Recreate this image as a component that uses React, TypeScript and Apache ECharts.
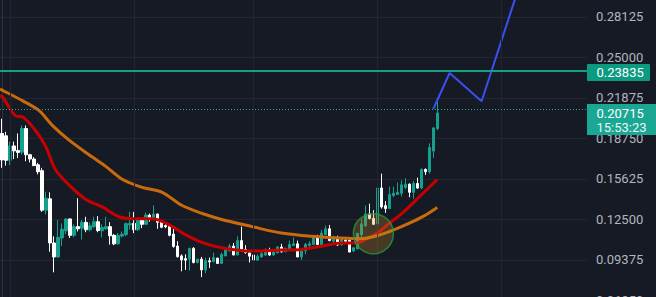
import React, { useEffect, useRef } from "react";
import * as echarts from "echarts";

// category slots (one per candle period, plus empty future slots on the right)
const categories = Array.from({ length: 147 }, (_, i) => String(i));

// [open, close, low, high]
const candles: number[][] = [
  [0.1913, 0.1709, 0.1648, 0.2026],
  [0.1895, 0.1706, 0.1665, 0.1926],
  [0.1706, 0.1817, 0.1669, 0.185],
  [0.1817, 0.1779, 0.1716, 0.185],
  [0.1782, 0.1767, 0.1724, 0.1913],
  [0.1769, 0.1951, 0.1749, 0.1975],
  [0.1951, 0.1749, 0.1699, 0.1975],
  [0.1749, 0.1716, 0.169, 0.1756],
  [0.1716, 0.1665, 0.1661, 0.1731],
  [0.1671, 0.1618, 0.1598, 0.1686],
  [0.1626, 0.1321, 0.1308, 0.1648],
  [0.1321, 0.1414, 0.1288, 0.1464],
  [0.1409, 0.1068, 0.1, 0.1459],
  [0.1068, 0.096, 0.0841, 0.1119],
  [0.096, 0.1111, 0.0955, 0.1245],
  [0.1106, 0.1174, 0.1044, 0.1219],
  [0.1162, 0.1253, 0.1136, 0.1257],
  [0.1253, 0.1127, 0.1106, 0.1257],
  [0.1127, 0.1194, 0.1111, 0.1212],
  [0.1194, 0.1177, 0.1157, 0.1414],
  [0.1182, 0.1227, 0.1094, 0.1245],
  [0.1227, 0.117, 0.1151, 0.127],
  [0.117, 0.12, 0.1157, 0.1227],
  [0.1194, 0.1232, 0.1182, 0.127],
  [0.1232, 0.1164, 0.1151, 0.1275],
  [0.1162, 0.1187, 0.1111, 0.1212],
  [0.1177, 0.1194, 0.117, 0.127],
  [0.1194, 0.1123, 0.1055, 0.1229],
  [0.1127, 0.1061, 0.1051, 0.1136],
  [0.1061, 0.1127, 0.1056, 0.1144],
  [0.1121, 0.1136, 0.1111, 0.1157],
  [0.1132, 0.1217, 0.1119, 0.1225],
  [0.1207, 0.1219, 0.117, 0.1308],
  [0.1219, 0.117, 0.1144, 0.1308],
  [0.117, 0.1253, 0.1162, 0.1263],
  [0.1245, 0.1212, 0.1182, 0.1257],
  [0.1212, 0.1283, 0.1207, 0.1303],
  [0.1283, 0.1257, 0.1232, 0.1295],
  [0.1257, 0.1291, 0.1245, 0.1358],
  [0.1291, 0.1227, 0.1177, 0.1295],
  [0.1232, 0.1189, 0.1182, 0.1237],
  [0.1202, 0.1192, 0.1182, 0.1227],
  [0.1197, 0.1127, 0.1119, 0.1207],
  [0.1136, 0.1041, 0.1031, 0.1177],
  [0.1044, 0.0962, 0.0955, 0.1081],
  [0.0968, 0.0937, 0.0849, 0.098],
  [0.0947, 0.0935, 0.086, 0.098],
  [0.0943, 0.1026, 0.0854, 0.1031],
  [0.1026, 0.0917, 0.091, 0.1036],
  [0.0917, 0.0943, 0.091, 0.0945],
  [0.0943, 0.086, 0.0804, 0.096],
  [0.086, 0.093, 0.0834, 0.0955],
  [0.093, 0.0922, 0.0875, 0.0955],
  [0.0925, 0.0955, 0.0917, 0.0994],
  [0.095, 0.091, 0.0906, 0.0955],
  [0.091, 0.098, 0.0906, 0.0993],
  [0.0968, 0.1018, 0.0966, 0.1031],
  [0.1006, 0.1043, 0.1004, 0.1061],
  [0.1043, 0.0975, 0.0973, 0.1068],
  [0.0975, 0.1086, 0.0973, 0.1119],
  [0.1086, 0.1011, 0.1009, 0.1194],
  [0.1018, 0.0993, 0.0985, 0.1051],
  [0.0991, 0.0966, 0.0917, 0.0996],
  [0.0975, 0.0937, 0.0917, 0.0993],
  [0.0935, 0.0966, 0.093, 0.098],
  [0.096, 0.0985, 0.0955, 0.0998],
  [0.0975, 0.1013, 0.0968, 0.1026],
  [0.1013, 0.0975, 0.0968, 0.1031],
  [0.0975, 0.1, 0.0968, 0.1011],
  [0.0993, 0.1036, 0.0985, 0.1044],
  [0.1036, 0.1, 0.0993, 0.1061],
  [0.1, 0.1026, 0.0998, 0.1031],
  [0.1018, 0.1056, 0.1011, 0.1086],
  [0.1049, 0.1061, 0.1044, 0.1111],
  [0.1061, 0.096, 0.0958, 0.1086],
  [0.096, 0.1011, 0.0935, 0.1018],
  [0.1006, 0.1056, 0.098, 0.1068],
  [0.1049, 0.1061, 0.1031, 0.1081],
  [0.1056, 0.1119, 0.1051, 0.1126],
  [0.1106, 0.1056, 0.1051, 0.1131],
  [0.1056, 0.1144, 0.1054, 0.1169],
  [0.1132, 0.1177, 0.113, 0.1202],
  [0.1177, 0.1086, 0.1081, 0.1207],
  [0.1081, 0.1099, 0.1068, 0.1124],
  [0.1099, 0.1053, 0.1044, 0.1124],
  [0.1053, 0.1094, 0.1049, 0.1106],
  [0.1089, 0.1079, 0.1068, 0.1114],
  [0.1089, 0.0998, 0.0996, 0.1106],
  [0.1006, 0.1031, 0.0998, 0.1033],
  [0.1023, 0.1142, 0.1018, 0.1145],
  [0.1132, 0.1215, 0.1068, 0.125],
  [0.12, 0.1291, 0.1194, 0.1358],
  [0.1291, 0.1257, 0.125, 0.1371],
  [0.1257, 0.1212, 0.1207, 0.1321],
  [0.1215, 0.1492, 0.1207, 0.1635],
  [0.1492, 0.1346, 0.1333, 0.1603],
  [0.1356, 0.1333, 0.13, 0.1391],
  [0.1333, 0.1442, 0.1331, 0.1502],
  [0.1434, 0.1452, 0.1421, 0.1502],
  [0.1442, 0.1459, 0.144, 0.1535],
  [0.1452, 0.1517, 0.1426, 0.1552],
  [0.1497, 0.1522, 0.1484, 0.1567],
  [0.1522, 0.1459, 0.1421, 0.1527],
  [0.1459, 0.1527, 0.1409, 0.1547],
  [0.1527, 0.1492, 0.1484, 0.1572],
  [0.1492, 0.1636, 0.1484, 0.1643],
  [0.1636, 0.1618, 0.1593, 0.1643],
  [0.1618, 0.1805, 0.1603, 0.1837],
  [0.1777, 0.1956, 0.1724, 0.1963],
  [0.1951, 0.20715, 0.1938, 0.2159],
];

// moving averages: [slot, price]
const maRed: number[][] = [
  [-0.5, 0.2205], [0.2, 0.2193], [3.4, 0.2049], [5.2, 0.2041], [8.4, 0.1936],
  [10.9, 0.1815], [13.4, 0.1633], [16.9, 0.1512], [20.9, 0.1406], [25.1, 0.1346],
  [29.3, 0.127], [33.3, 0.1255], [37.6, 0.1255], [41.8, 0.121], [45.8, 0.1134],
  [50, 0.1073], [55, 0.1031], [62.5, 0.1005], [70, 0.1013], [75, 0.1018],
  [80, 0.1043], [85, 0.1068], [89, 0.1068], [91.6, 0.1105], [94.2, 0.1149],
  [97, 0.122], [100.3, 0.13], [104.4, 0.1421], [109, 0.1558],
];
const maOrange: number[][] = [
  [-0.5, 0.2255], [0.2, 0.2245], [5.2, 0.2165], [9.3, 0.2089], [12.6, 0.1976],
  [16.8, 0.1862], [21.8, 0.1749], [25.9, 0.1661], [30.1, 0.156], [35.1, 0.1497],
  [40.1, 0.1459], [45, 0.1359], [50, 0.1297], [55, 0.1249], [62.5, 0.1195],
  [70, 0.1144], [77.4, 0.1119], [84.9, 0.1106], [89.9, 0.1101], [93.5, 0.112],
  [97.6, 0.1163], [101.6, 0.1215], [105.6, 0.1275], [109, 0.1342],
];
const projection: number[][] = [
  [108, 0.2102], [112.1, 0.238], [120.1, 0.2162], [129.5, 0.3047],
];
const highlight: number[][] = [[93, 0.1139]];
const sessionBreaks = [2, 33, 63, 94, 125];

const yMin = 0.0625;
const yMax = 0.3125;
const yStep = 0.03125;
const resistance = 0.23835;
const lastPrice = 0.20715;
const countdown = "15:53:23";

const BG = "#161a25";
const UP = "#14a08d";
const DOWN = "#ffffff";
const GRID = "#232632";
const RIGHT_W = 69;

export default function App() {
  const ref = useRef<HTMLDivElement>(null);
  useEffect(() => {
    const chart = echarts.init(ref.current!, null, { renderer: "svg" });
    chart.setOption({
      animation: false,
      backgroundColor: BG,
      grid: { left: -2.7, right: RIGHT_W, top: 0, bottom: 14.67, containLabel: false },
      xAxis: [
        {
          type: "category",
          data: categories,
          boundaryGap: true,
          axisLine: { show: false },
          axisTick: { show: false },
          axisLabel: { show: false },
          splitLine: { show: false },
        },
        { type: "value", min: -0.5, max: categories.length - 0.5, show: false },
      ],
      yAxis: {
        type: "value",
        position: "right",
        min: yMin,
        max: yMax,
        interval: yStep,
        axisLine: { show: true, lineStyle: { color: "#2f3340", width: 1 } },
        axisTick: { show: false },
        axisLabel: {
          color: "#b2b5be",
          fontSize: 13,
          fontFamily: "Roboto",
          margin: 9,
          formatter: (v: number) => v.toFixed(5),
        },
        splitLine: { lineStyle: { color: GRID, width: 1 } },
      },
      series: [
        {
          type: "line",
          data: [],
          z: 1,
          silent: true,
          markLine: {
            silent: true,
            symbol: ["none", "none"],
            label: { show: false },
            lineStyle: { color: GRID, width: 1, type: "solid" },
            data: sessionBreaks.map((k) => ({ xAxis: k })),
          },
        },
        {
          type: "candlestick",
          data: candles,
          barWidth: 3,
          z: 2,
          itemStyle: {
            color: UP,
            color0: DOWN,
            borderColor: UP,
            borderColor0: DOWN,
            borderWidth: 1,
          },
          markLine: {
            silent: true,
            symbol: ["none", "none"],
            label: { show: false },
            data: [
              { yAxis: resistance, lineStyle: { color: "#159f86", width: 2, type: "solid" } },
              { yAxis: lastPrice, lineStyle: { color: "#1aa895", width: 1, type: [1, 2] } },
            ],
          },
        },
        {
          type: "line",
          xAxisIndex: 1,
          data: maRed,
          showSymbol: false,
          smooth: 0.3,
          z: 3,
          lineStyle: { color: "#c80000", width: 3 },
        },
        {
          type: "line",
          xAxisIndex: 1,
          data: maOrange,
          showSymbol: false,
          smooth: 0.3,
          z: 3,
          lineStyle: { color: "#c96a0c", width: 3 },
        },
        {
          type: "line",
          xAxisIndex: 1,
          data: projection,
          showSymbol: false,
          z: 4,
          lineStyle: { color: "#3d4ef2", width: 2 },
        },
        {
          type: "scatter",
          xAxisIndex: 1,
          data: highlight,
          symbolSize: 40,
          z: 5,
          itemStyle: {
            color: "rgba(200,140,40,0.35)",
            borderColor: "#1f9e3c",
            borderWidth: 1.5,
          },
        },
      ],
    });

    const yR = chart.convertToPixel({ yAxisIndex: 0 }, resistance) as number;
    const yL = chart.convertToPixel({ yAxisIndex: 0 }, lastPrice) as number;
    const axisX = chart.getWidth() - RIGHT_W;
    const font = "13px Roboto";
    chart.setOption({
      graphic: [
        {
          type: "rect",
          z: 100,
          shape: { x: axisX, y: yR - 8.5, width: 63, height: 17, r: 1 },
          style: { fill: "#0b9b80" },
        },
        {
          type: "text",
          z: 101,
          x: axisX + 9.5,
          y: yR,
          style: { text: resistance.toFixed(5), fill: "#ffffff", font, verticalAlign: "middle", align: "left" },
        },
        {
          type: "rect",
          z: 100,
          shape: { x: axisX, y: yL - 9, width: 69, height: 31 },
          style: { fill: "#1aa895" },
        },
        {
          type: "text",
          z: 101,
          x: axisX + 9.5,
          y: yL + 0.5,
          style: { text: lastPrice.toFixed(5), fill: "#ffffff", font, verticalAlign: "middle", align: "left" },
        },
        {
          type: "text",
          z: 101,
          x: axisX + 9.5,
          y: yL + 14.5,
          style: { text: countdown, fill: "#e8f6f3", font, verticalAlign: "middle", align: "left" },
        },
      ],
    });
    return () => chart.dispose();
  }, []);
  return (
    <div
      ref={ref}
      style={{ position: "fixed", left: 0, top: -30, width: 656, height: 345, background: BG }}
    />
  );
}
